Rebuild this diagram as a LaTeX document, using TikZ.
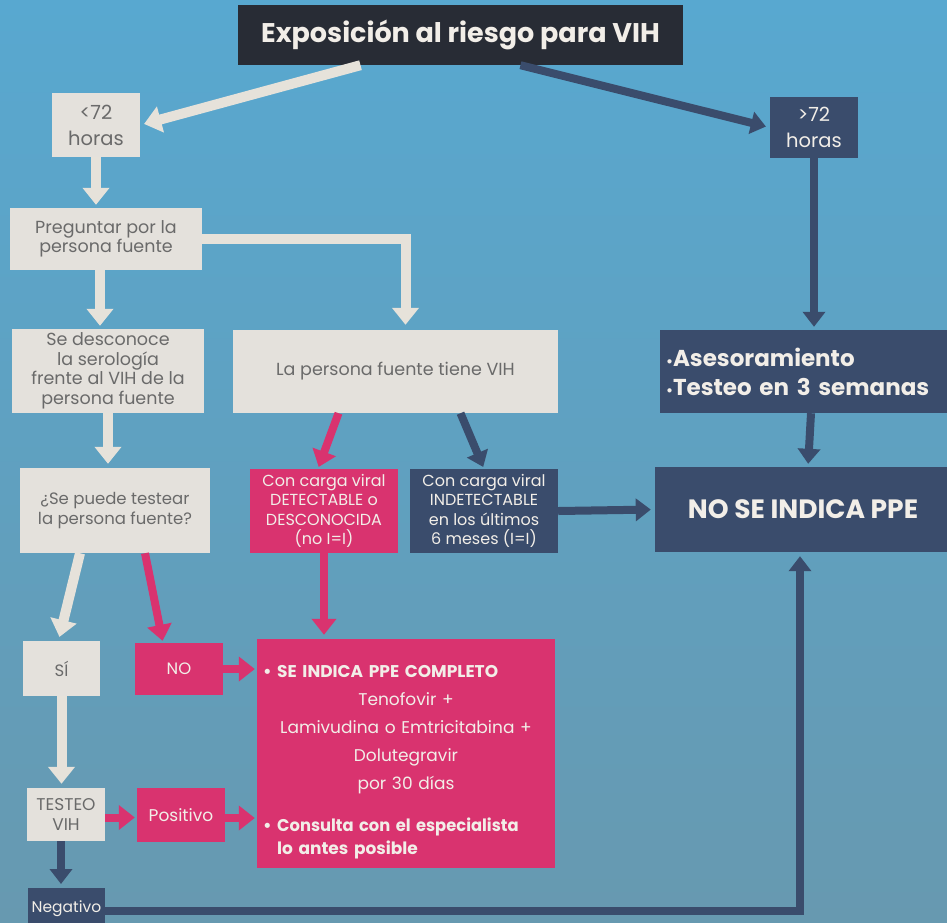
\documentclass[tikz,border=0pt]{standalone}
\usepackage{fontspec}
\setmainfont{Poppins}
\usetikzlibrary{arrows.meta,calc}
\definecolor{bgtop}{HTML}{58A8D0}
\definecolor{bgbot}{HTML}{6799B0}
\definecolor{lightbox}{HTML}{E4E1DC}
\definecolor{graytext}{HTML}{6A6A6A}
\definecolor{pinkc}{HTML}{D9336F}
\definecolor{navyc}{HTML}{3A4C6C}
\definecolor{titlec}{HTML}{282C35}
\definecolor{whitetext}{HTML}{F2EEE8}
\definecolor{lightarrow}{HTML}{E6E2DA}
\tikzset{
  box/.style={rectangle, inner sep=1pt, align=center, font=\fontsize{17.5}{19.5}\selectfont},
  lbox/.style={box, fill=lightbox, text=graytext},
  pbox/.style={box, fill=pinkc, text=whitetext},
  nbox/.style={box, fill=navyc, text=whitetext},
  tbox/.style={box, fill=titlec, text=whitetext},
  larr/.style={draw=lightarrow, line width=10pt, -{Triangle[width=26pt,length=17pt]}},
  parr/.style={draw=pinkc, line width=8pt, -{Triangle[width=24pt,length=16pt]}},
  narr/.style={draw=navyc, line width=8pt, -{Triangle[width=22pt,length=15pt]}},
}
\begin{document}
\begin{tikzpicture}[x=1pt,y=-1pt]
\useasboundingbox (0,0) rectangle (947,922);
\clip (0,0) rectangle (947,922);
\shade[top color=bgtop, bottom color=bgbot] (0,0) rectangle (947,922);

% nodes
\node[tbox, minimum width=445, minimum height=60, font=\fontsize{27}{30}\selectfont\bfseries] (title) at (460.5,35) {Exposición al riesgo para VIH};
\node[lbox, minimum width=88, minimum height=64, font=\fontsize{19.5}{26}\selectfont] (lt72) at (96,125) {<72\\horas};
\node[nbox, minimum width=88, minimum height=61, font=\fontsize{19.5}{26}\selectfont] (gt72) at (814,127.5) {>72\\horas};
\node[lbox, minimum width=192, minimum height=62] (preg) at (106,239) {Preguntar por la\\persona fuente};
\node[lbox, minimum width=192, minimum height=84] (desc) at (108,371) {Se desconoce\\la serología\\frente al VIH de la\\persona fuente};
\node[lbox, minimum width=325, minimum height=83] (tiene) at (395.5,371.5) {La persona fuente tiene VIH};
\node[nbox, minimum width=292, minimum height=83, text width=280, align=left, font=\fontsize{23}{29}\selectfont\bfseries] (ases) at (806,371.5) {{\fontsize{14}{14}\selectfont•}Asesoramiento\\{\fontsize{14}{14}\selectfont•}Testeo en 3 semanas};
\node[lbox, minimum width=190, minimum height=85, font=\fontsize{16.5}{20}\selectfont] (testear) at (115,510.5) {¿Se puede testear\\la persona fuente?};
\node[pbox, minimum width=148, minimum height=84, font=\fontsize{16}{19.5}\selectfont] (detect) at (324,511) {Con carga viral\\DETECTABLE o\\DESCONOCIDA\\(no I=I)};
\node[nbox, minimum width=148, minimum height=84, font=\fontsize{16}{19.5}\selectfont] (indetect) at (484,511) {Con carga viral\\INDETECTABLE\\en los últimos\\6 meses (I=I)};
\node[nbox, minimum width=296, minimum height=85, font=\fontsize{26.5}{30}\selectfont\bfseries] (nose) at (803,509.5) {NO SE INDICA PPE};
\node[lbox, minimum width=77, minimum height=55, font=\fontsize{16.5}{19}\selectfont] (si) at (61.5,668.5) {SÍ};
\node[pbox, minimum width=88, minimum height=52, font=\fontsize{16.5}{19}\selectfont] (no) at (179,669) {NO};
\node[pbox, minimum width=298, minimum height=229, text width=286, align=center, font=\fontsize{17}{28}\selectfont] (indica) at (406,753.5) {%
\makebox[286pt][l]{\rule{0pt}{30pt}\bfseries • SE INDICA PPE COMPLETO}\\
Tenofovir +\\
Lamivudina o Emtricitabina +\\
Dolutegravir\\
por 30 días\\[14pt]
\makebox[286pt][l]{\bfseries • \scalebox{0.96}[1]{Consulta con el especialista}}\\[-5pt]
\makebox[286pt][l]{\bfseries\hspace{14pt}lo antes posible}};
\node[lbox, minimum width=78, minimum height=53, font=\fontsize{17}{20}\selectfont] (testeo) at (66,814.5) {TESTEO\\VIH};
\node[pbox, minimum width=88, minimum height=54, font=\fontsize{17}{20}\selectfont] (positivo) at (181,815) {Positivo};
\node[nbox, minimum width=77, minimum height=40, font=\fontsize{15.5}{17}\selectfont, anchor=north] (negativo) at (66.5,888) {\raisebox{4pt}{Negativo}};

% connectors
\draw[larr, shorten >=4pt] ([xshift=-100pt]title.south) -- (lt72.east);
\draw[narr, shorten >=4pt] ([xshift=60pt]title.south) -- (gt72.west);
\draw[larr, shorten >=3pt] (lt72.south) -- (lt72.south |- preg.north);
\draw[larr, shorten >=5pt] (preg.east) -| ([xshift=10pt]tiene.north);
\draw[larr, shorten >=3pt] ([xshift=-6pt]preg.south) -- ([xshift=-6pt]preg.south |- desc.north);
\draw[larr, shorten >=4pt] (desc.south) -- (desc.south |- testear.north);
\draw[parr, shorten >=2pt] ([xshift=-57pt]tiene.south) -- ([xshift=-6pt]detect.north);
\draw[narr, shorten >=2pt] ([xshift=65pt]tiene.south) -- (indetect.north);
\draw[narr, shorten >=4pt] (indetect.east) -- (nose.west);
\draw[narr, shorten >=3pt] (gt72.south) -- (gt72.south |- ases.north);
\draw[narr, shorten >=3pt] ([xshift=5pt]ases.south) -- ([xshift=5pt]nose.north);
\draw[parr, shorten >=4pt] (detect.south) -- (detect.south |- indica.north);
\draw[larr, shorten >=4pt] ([xshift=-35pt]testear.south) -- ([xshift=-3pt]si.north);
\draw[parr, shorten >=2pt] ([xshift=30pt]testear.south) -- ([xshift=-16pt]no.north);
\draw[parr, shorten >=2pt] (no.east) -- (no.east -| indica.west);
\draw[larr, shorten >=4pt] (si.south) -- (si.south |- testeo.north);
\draw[parr, shorten >=2pt] ([yshift=-3pt]testeo.east) -- ([yshift=-3pt]testeo.east -| positivo.west);
\draw[parr, shorten >=2pt] ([yshift=-3pt]positivo.east) -- ([yshift=-3pt]positivo.east -| indica.west);
\draw[narr, shorten >=4pt] ([xshift=-5pt]testeo.south) -- ([xshift=-5pt]testeo.south |- negativo.north);
\draw[narr, shorten >=4pt] ([yshift=-3pt]negativo.east) -| ([xshift=-3pt]nose.south);
\end{tikzpicture}
\end{document}
